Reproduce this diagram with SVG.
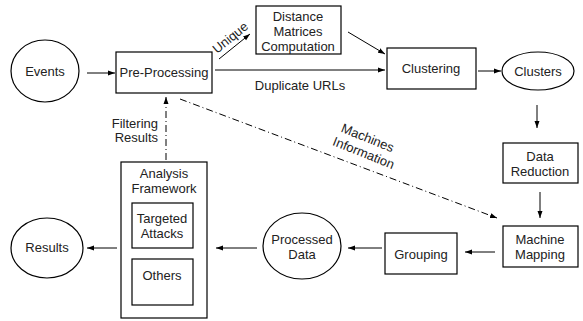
<svg xmlns="http://www.w3.org/2000/svg" width="583" height="321" viewBox="0 0 583 321">
<style>
.s{fill:none;stroke:#000;stroke-width:1.2}
.t{font-family:"Liberation Sans",Arial,sans-serif;font-size:13px;fill:#222;text-anchor:middle}
.c{stroke:#000;stroke-width:1;fill:none}
.dd{stroke-dasharray:7,3,1,3}
</style>
<defs>
<marker id="a" markerWidth="8" markerHeight="6" refX="7" refY="3" orient="auto" markerUnits="userSpaceOnUse">
<path d="M0,0.5 L7,3 L0,5.5 Z" fill="#000"/>
</marker>
</defs>
<rect width="583" height="321" fill="#fff"/>
<g id="events"><ellipse class="s" cx="45" cy="71" rx="34" ry="31"/><text class="t" x="45" y="76">Events</text></g>
<g id="preprocessing"><rect class="s" x="116" y="52" width="96" height="41"/><text class="t" x="164" y="77">Pre-Processing</text></g>
<g id="distance"><rect class="s" x="256" y="6" width="85" height="48"/><text class="t" x="298" y="21">Distance</text><text class="t" x="298" y="36">Matrices</text><text class="t" x="298" y="51">Computation</text></g>
<g id="clustering"><rect class="s" x="387" y="48" width="89" height="41"/><text class="t" x="431" y="73">Clustering</text></g>
<g id="clusters"><ellipse class="s" cx="538" cy="71" rx="36" ry="19"/><text class="t" x="538" y="76">Clusters</text></g>
<g id="datareduction"><rect class="s" x="503" y="143" width="75" height="40"/><text class="t" x="540" y="161">Data</text><text class="t" x="540" y="176">Reduction</text></g>
<g id="machinemapping"><rect class="s" x="503" y="226" width="75" height="41"/><text class="t" x="540" y="244">Machine</text><text class="t" x="540" y="259">Mapping</text></g>
<g id="grouping"><rect class="s" x="385" y="233" width="72" height="41"/><text class="t" x="421" y="259">Grouping</text></g>
<g id="processeddata"><ellipse class="s" cx="302" cy="246" rx="39" ry="33"/><text class="t" x="302" y="244">Processed</text><text class="t" x="302" y="259">Data</text></g>
<g id="analysis"><rect class="s" x="121" y="162" width="86" height="156"/><text class="t" x="164" y="178">Analysis</text><text class="t" x="164" y="193">Framework</text>
<g id="targeted"><rect class="s" x="132" y="203" width="61" height="45"/><text class="t" x="162" y="223">Targeted</text><text class="t" x="162" y="238">Attacks</text></g>
<g id="others"><rect class="s" x="132" y="259" width="61" height="46"/><text class="t" x="162" y="280">Others</text></g>
</g>
<g id="results"><ellipse class="s" cx="47" cy="248" rx="36" ry="30"/><text class="t" x="47" y="252">Results</text></g>
<g id="connectors">
<line class="c" x1="87" y1="73" x2="115" y2="73" marker-end="url(#a)"/>
<line class="c" x1="219" y1="59" x2="250" y2="34" marker-end="url(#a)"/>
<text class="t" transform="translate(233,41) rotate(-39)">Unique</text>
<line class="c" x1="348" y1="32" x2="385" y2="54" marker-end="url(#a)"/>
<line class="c" x1="215" y1="70" x2="385" y2="70" marker-end="url(#a)"/>
<text class="t" x="300" y="90">Duplicate URLs</text>
<line class="c" x1="478" y1="71" x2="501" y2="71" marker-end="url(#a)"/>
<line class="c" x1="537" y1="105" x2="537" y2="128" marker-end="url(#a)"/>
<line class="c" x1="540" y1="192" x2="540" y2="218" marker-end="url(#a)"/>
<line class="c" x1="495" y1="252" x2="465" y2="252" marker-end="url(#a)"/>
<line class="c" x1="382" y1="248" x2="348" y2="248" marker-end="url(#a)"/>
<line class="c" x1="257" y1="248" x2="216" y2="248" marker-end="url(#a)"/>
<line class="c" x1="117" y1="248" x2="87" y2="248" marker-end="url(#a)"/>
<line class="c dd" x1="166" y1="160" x2="166" y2="97" marker-end="url(#a)"/>
<text class="t" x="158" y="128" style="text-anchor:end">Filtering</text>
<text class="t" x="158" y="142" style="text-anchor:end">Results</text>
<line class="c dd" x1="180" y1="99" x2="497" y2="218" marker-end="url(#a)"/>
<text class="t" transform="translate(366,142) rotate(22)">Machines</text>
<text class="t" transform="translate(362,157) rotate(22)">Information</text>
</g>
</svg>
